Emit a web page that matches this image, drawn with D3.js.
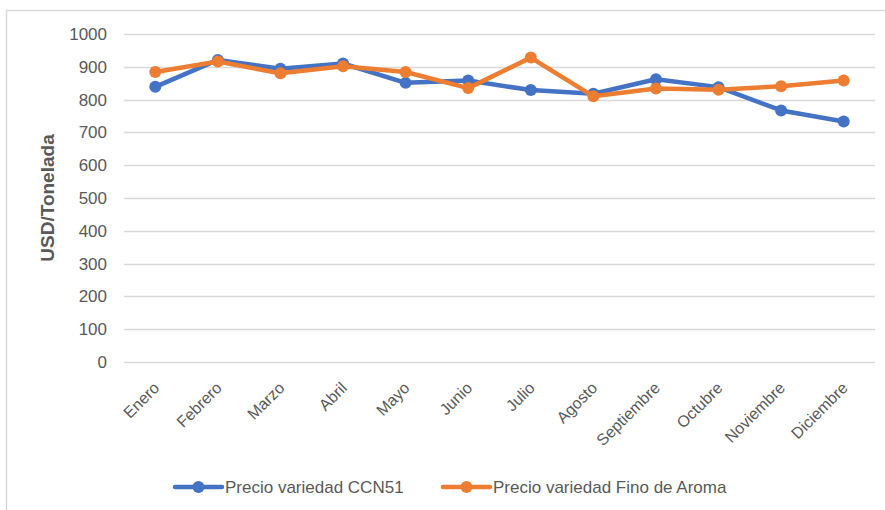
<!DOCTYPE html>
<head>
  <meta charset="utf-8">
  <script src="https://d3js.org/d3.v7.min.js"></script>
  <style>
    body { margin:0; background:#fff; }
    text { font-family: "Liberation Sans", Arial, sans-serif; fill:#595959; }
  </style>
</head>
<body>
<script>
  // Data
  var months = ["Enero","Febrero","Marzo","Abril","Mayo","Junio","Julio","Agosto",
                "Septiembre","Octubre","Noviembre","Diciembre"];
  var ccn51 = [839, 921, 894, 910, 851, 858, 829, 818, 862, 838, 767, 733];
  var finoAroma = [884, 916, 880, 902, 884, 835, 928, 810, 834, 830, 841, 858];
  var yTicks = [0,100,200,300,400,500,600,700,800,900,1000];
  var seriesNames = ["Precio variedad CCN51", "Precio variedad Fino de Aroma"];
  var colors = ["#4472C4", "#ED7D31"];

  var W = 885, H = 510;
  var margin = {top: 34, right: 10, bottom: 148, left: 124},
      width = 875 - margin.left,
      height = 362 - margin.top;

  var svg = d3.select("body").append("svg")
      .attr("width", W)
      .attr("height", H);

  // chart area border
  svg.append("rect")
    .attr("x", 6.5).attr("y", 10.5)
    .attr("width", W + 10).attr("height", H + 10)
    .attr("fill", "none")
    .attr("stroke", "#d9d9d9")
    .attr("stroke-width", 1.5);

  var g = svg.append("g")
      .attr("transform", "translate(" + margin.left + "," + margin.top + ")");

  var x = d3.scaleBand().domain(months).range([0, width]);
  var y = d3.scaleLinear().domain([0, 1000]).range([height, 0]);

  // gridlines
  g.selectAll(".grid").data(yTicks).enter().append("line")
    .attr("class", "grid")
    .attr("x1", 0).attr("x2", width)
    .attr("y1", function(d) { return Math.round(y(d)) + 0.5; })
    .attr("y2", function(d) { return Math.round(y(d)) + 0.5; })
    .attr("stroke", "#d9d9d9")
    .attr("stroke-width", 1.5);

  // y tick labels
  g.selectAll(".ylab").data(yTicks).enter().append("text")
    .attr("class", "ylab")
    .attr("x", -17)
    .attr("y", function(d) { return y(d); })
    .attr("dy", "0.35em")
    .attr("text-anchor", "end")
    .style("font-size", "17px")
    .text(function(d) { return d; });

  // x tick labels, rotated
  g.selectAll(".xlab").data(months).enter().append("text")
    .attr("class", "xlab")
    .attr("transform", function(d) {
      return "translate(" + (x(d) + x.bandwidth() / 2 + 5) + "," + (height + 27) + ") rotate(-45)";
    })
    .attr("text-anchor", "end")
    .style("font-size", "16px")
    .text(function(d) { return d; });

  // y axis title
  svg.append("text")
    .attr("transform", "translate(54,198) rotate(-90)")
    .attr("text-anchor", "middle")
    .style("font-size", "19px")
    .style("font-weight", "bold")
    .text("USD/Tonelada");

  var line = d3.line()
    .x(function(d, i) { return x(months[i]) + x.bandwidth() / 2; })
    .y(function(d) { return y(d); });

  [ccn51, finoAroma].forEach(function(series, k) {
    g.append("path")
      .datum(series)
      .attr("d", line)
      .attr("fill", "none")
      .attr("stroke", colors[k])
      .attr("stroke-width", 4.5)
      .attr("stroke-linejoin", "round");
    g.selectAll(".pt" + k).data(series).enter().append("circle")
      .attr("class", "pt" + k)
      .attr("cx", function(d, i) { return x(months[i]) + x.bandwidth() / 2; })
      .attr("cy", function(d) { return y(d); })
      .attr("r", 6)
      .attr("fill", colors[k]);
  });

  // legend
  var legendX = [175, 443];
  var leg = svg.selectAll(".leg").data(seriesNames).enter().append("g")
    .attr("class", "leg")
    .attr("transform", function(d, i) { return "translate(" + legendX[i] + ",487)"; });
  leg.append("line")
    .attr("x1", 0).attr("x2", 47)
    .attr("stroke", function(d, i) { return colors[i]; })
    .attr("stroke-width", 4.5)
    .attr("stroke-linecap", "round");
  leg.append("circle")
    .attr("cx", 23.5).attr("r", 6)
    .attr("fill", function(d, i) { return colors[i]; });
  leg.append("text")
    .attr("x", 50)
    .attr("dy", "0.35em")
    .style("font-size", "17px")
    .text(function(d) { return d; });
</script>
</body>
